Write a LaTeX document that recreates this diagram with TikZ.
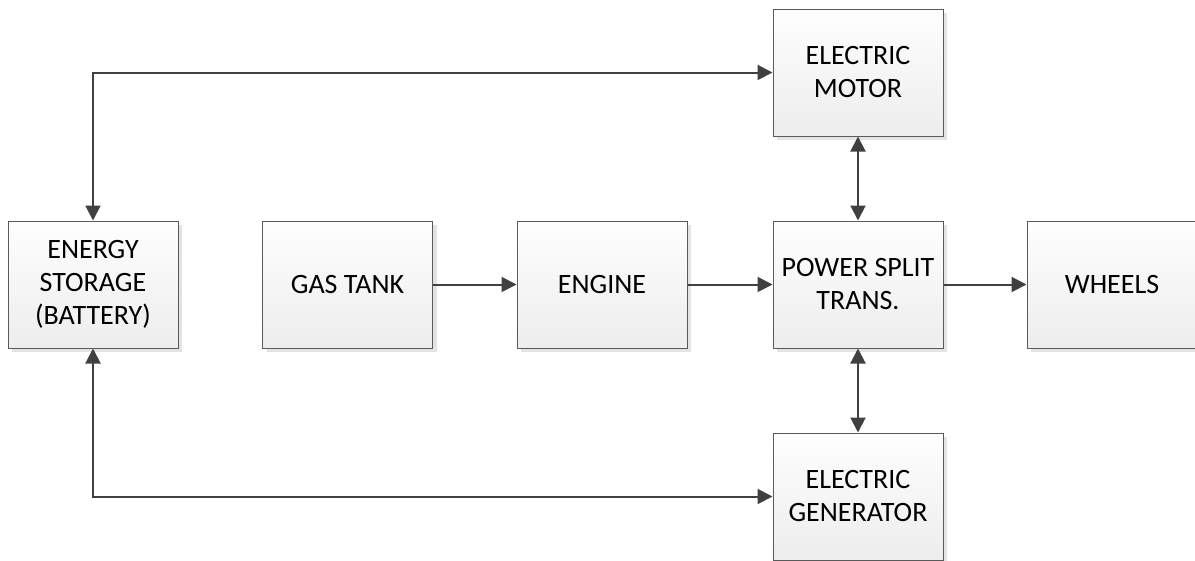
\documentclass[tikz,border=0pt]{standalone}
\usepackage{fontspec}
\setmainfont{Carlito}
\usetikzlibrary{arrows.meta,shadows}
\definecolor{boxborder}{HTML}{5A5A5A}
\definecolor{boxtop}{HTML}{FEFEFE}
\definecolor{boxbot}{HTML}{EDEDED}
\definecolor{arrowc}{HTML}{404040}
\definecolor{shadowc}{HTML}{E3E3E3}
\tikzset{
  blk/.style={draw=boxborder, line width=1pt, top color=boxtop, bottom color=boxbot,
    minimum width=170pt, minimum height=127pt, inner sep=0pt, align=center,
    font=\fontsize{28}{33}\selectfont,
    drop shadow={shadow xshift=4pt, shadow yshift=-4pt, fill=shadowc, opacity=1, draw=none}},
  conn/.style={draw=arrowc, line width=2pt, -{Triangle[length=15pt,width=15pt]}},
  bconn/.style={draw=arrowc, line width=2pt, {Triangle[length=15pt,width=15pt]}-{Triangle[length=15pt,width=15pt]}}
}
\begin{document}
\begin{tikzpicture}[x=1pt,y=-1pt]
\useasboundingbox (0,0) rectangle (1195,560);
\node[blk] (bat) at (93,284.5) {ENERGY\\STORAGE\\(BATTERY)};
\node[blk] (gas) at (347.5,284.5) {GAS TANK};
\node[blk] (eng) at (602,284.5) {ENGINE};
\node[blk] (psd) at (858,284.5) {POWER SPLIT\\TRANS.};
\node[blk] (whl) at (1112,284.5) {WHEELS};
\node[blk] (mot) at (858,72.5) {ELECTRIC\\MOTOR};
\node[blk] (gen) at (858,496.5) {ELECTRIC\\GENERATOR};
\draw[conn] (gas) -- (eng);
\draw[conn] (eng) -- (psd);
\draw[conn] (psd) -- (whl);
\draw[bconn] (psd) -- (mot);
\draw[bconn] (psd) -- (gen);
\draw[bconn] (bat.north) |- (mot.west);
\draw[bconn] (bat.south) |- (gen.west);
\end{tikzpicture}
\end{document}
